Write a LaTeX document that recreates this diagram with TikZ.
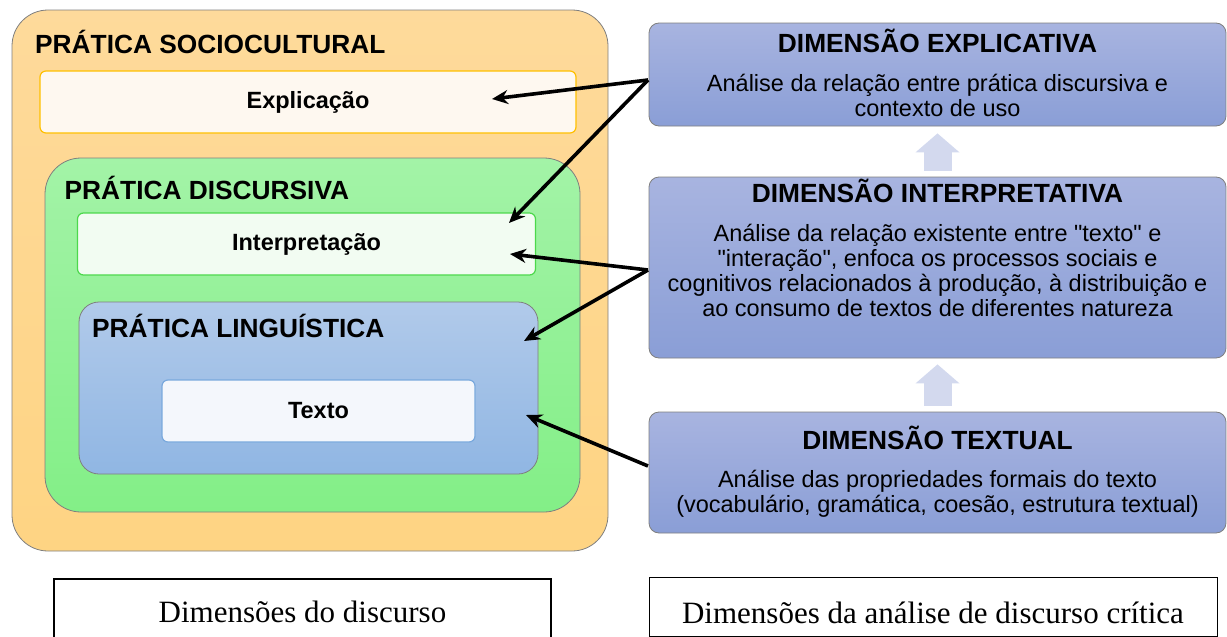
\documentclass[tikz,border=0pt]{standalone}
\usepackage{fontspec}
\setmainfont{Liberation Serif}
\setsansfont{Liberation Sans}
\usetikzlibrary{arrows.meta}

\definecolor{framegray}{HTML}{7F7F7F}
\definecolor{soctop}{HTML}{FEDA9B}
\definecolor{socbot}{HTML}{FED483}
\definecolor{expfill}{HTML}{FEF8F0}
\definecolor{expline}{HTML}{FFC000}
\definecolor{disctop}{HTML}{A3F3A7}
\definecolor{discbot}{HTML}{83EF87}
\definecolor{intfill}{HTML}{F2FCF2}
\definecolor{intline}{HTML}{4CD84C}
\definecolor{lingtop}{HTML}{B1CAEA}
\definecolor{lingbot}{HTML}{90B6E3}
\definecolor{txtfill}{HTML}{F4F7FC}
\definecolor{txtline}{HTML}{7AA9DD}
\definecolor{dimtop}{HTML}{A8B4E0}
\definecolor{dimbot}{HTML}{8A9ED6}
\definecolor{upfill}{HTML}{D3D9EE}

\begin{document}
\begin{tikzpicture}[x=1pt,y=-1pt,
  layer/.style={draw=framegray,line width=0.8pt,inner sep=0pt},
  inbox/.style={rounded corners=6pt,line width=1.2pt,inner sep=0pt,minimum height=62pt,
    font=\sffamily\bfseries\fontsize{23.5}{28}\selectfont},
  dimbox/.style={draw=framegray,line width=0.8pt,rounded corners=10pt,top color=dimtop,
    bottom color=dimbot,minimum width=577pt,inner sep=0pt},
  heading/.style={inner sep=0pt,font=\sffamily\bfseries\fontsize{26.3}{30}\selectfont},
  body/.style={inner sep=0pt,align=center,font=\sffamily\fontsize{23.5}{25}\selectfont},
  caption/.style={draw,line width=1.3pt,inner sep=0pt,text height=20pt,text depth=0pt,
    font=\rmfamily\fontsize{31}{36}\selectfont},
  link/.style={line width=3.6pt,-{Stealth[length=16pt,width=14pt]}},
  uparrow/.style={upfill,line width=28pt,-{Triangle[length=19pt,width=44pt,line width=0pt]}}
 ]

  \useasboundingbox (0,0) rectangle (1227,637);
  \clip (0,0) rectangle (1227,637);

  % left: nested practices
  \node[layer,rounded corners=36pt,top color=soctop,bottom color=socbot,
    minimum width=596pt,minimum height=541pt] (soc) at (310,280.5) {};
  \node[heading,anchor=base west] (socT) at (35,53) {PRÁTICA SOCIOCULTURAL};
  \node[inbox,draw=expline,fill=expfill,minimum width=536pt] (expl) at (308,102) {Explicação};

  \node[layer,rounded corners=36pt,top color=disctop,bottom color=discbot,
    minimum width=535pt,minimum height=354pt] (disc) at (312.5,335) {};
  \node[heading,anchor=base west] (discT) at (64.5,199) {PRÁTICA DISCURSIVA};
  \node[inbox,draw=intline,fill=intfill,minimum width=458pt] (interp) at (306.5,244) {Interpretação};

  \node[layer,rounded corners=20pt,top color=lingtop,bottom color=lingbot,
    minimum width=459pt,minimum height=172pt] (ling) at (308.5,388) {};
  \node[heading,anchor=base west] (lingT) at (92,337) {PRÁTICA LINGUÍSTICA};
  \node[inbox,draw=txtline,fill=txtfill,minimum width=313pt] (texto) at (318.5,411) {Texto};

  % right: dimensions of the analysis
  \node[dimbox,minimum height=103pt] (dexp) at (937.5,74.5) {};
  \node[heading,anchor=base] (dexpT) at (937.5,52) {DIMENSÃO EXPLICATIVA};
  \node[body,anchor=base] (dexpB) at (937.5,116)
    {Análise da relação entre prática discursiva e\\contexto de uso};

  \node[dimbox,minimum height=181pt] (dint) at (937.5,267.5) {};
  \node[heading,anchor=base] (dintT) at (937.5,202) {DIMENSÃO INTERPRETATIVA};
  \node[body,anchor=base] (dintB) at (937.5,316)
    {Análise da relação existente entre \textquotedbl texto\textquotedbl{} e\\
     \textquotedbl interação\textquotedbl, enfoca os processos sociais e\\
     cognitivos relacionados à produção, à distribuição e\\ao consumo de textos de diferentes natureza};

  \node[dimbox,minimum height=121pt] (dtex) at (937.5,472.5) {};
  \node[heading,anchor=base] (dtexT) at (937.5,449) {DIMENSÃO TEXTUAL};
  \node[body,anchor=base] (dtexB) at (937.5,512.5)
    {Análise das propriedades formais do texto\\(vocabulário, gramática, coesão, estrutura textual)};

  \draw[uparrow,shorten <=6pt,shorten >=7pt] (dint.north) -- (dexp.south);
  \draw[uparrow,shorten <=6pt,shorten >=6pt] (dtex.north) -- (dint.south);

  % arrows
  \coordinate (sexp) at (648,80);
  \coordinate (sint) at (648,270);
  \coordinate (stex) at (648,466);
  \coordinate (aexp) at (492,99);
  \coordinate (aint1) at (509,223);
  \coordinate (aint2) at (510,254);
  \coordinate (aling) at (524,341);
  \coordinate (atex) at (526,415);

  \draw[link] (sexp) -- (aexp);
  \draw[link] (sexp) -- (aint1);
  \draw[link] (sint) -- (aint2);
  \draw[link] (sint) -- (aling);
  \draw[link] (stex) -- (atex);

  % captions
  \node[caption,minimum width=497pt,minimum height=66pt] (capl) at (302.5,612) {Dimensões do discurso};
  \node[caption,line width=1pt,text height=33pt,minimum width=568pt,minimum height=59pt] (capr) at (933,606.5)
    {Dimensões da análise de discurso crítica};

\end{tikzpicture}
\end{document}
